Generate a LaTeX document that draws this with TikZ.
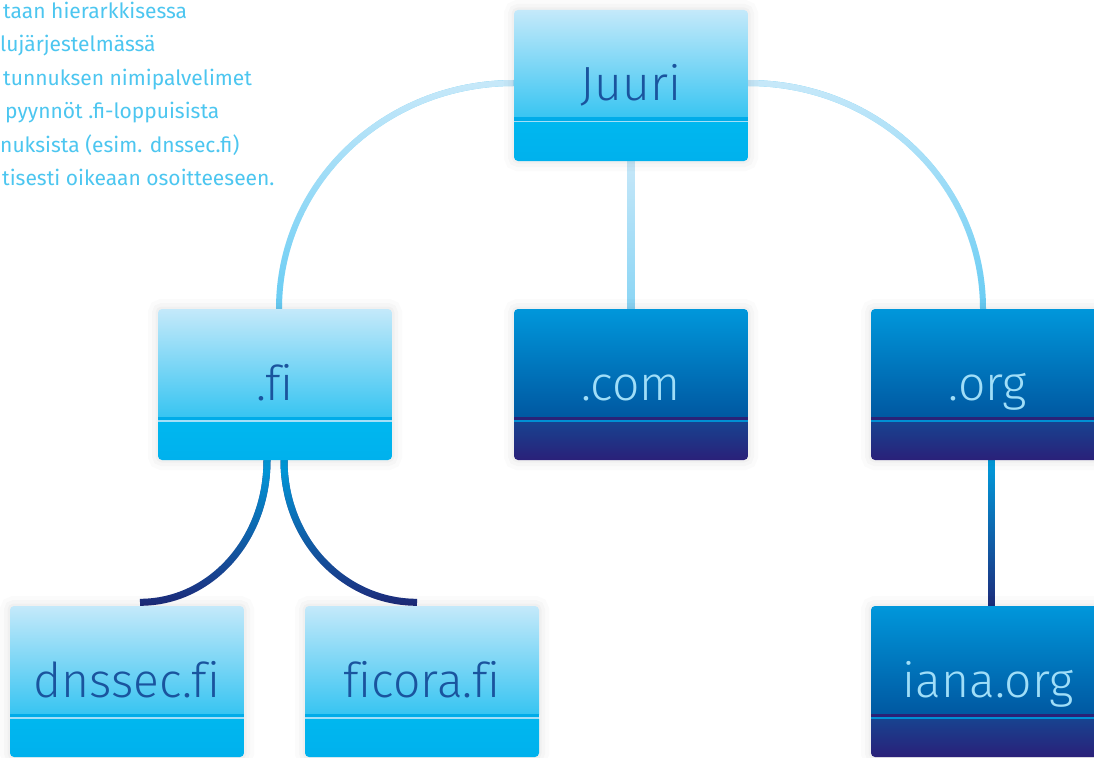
\documentclass[tikz,border=0pt]{standalone}
\usepackage{fontspec}
\newfontfamily\labelfont{Fira Sans Light}[Ligatures=NoCommon]
\newfontfamily\parafont{Fira Sans}
\usetikzlibrary{backgrounds,fadings}

\definecolor{lbTop}{HTML}{C4E9FA}
\definecolor{lbMid}{HTML}{6ECCF3}
\definecolor{lbBot}{HTML}{00B6EE}
\definecolor{lbStripeA}{HTML}{00ACE9}
\definecolor{lbStripeB}{HTML}{A3DFF7}
\definecolor{lbLowTop}{HTML}{00B7EF}
\definecolor{lbLowBot}{HTML}{00B1ED}
\definecolor{dbTop}{HTML}{0097DB}
\definecolor{dbMid}{HTML}{006FBA}
\definecolor{dbBot}{HTML}{003F8A}
\definecolor{dbStripeA}{HTML}{2A2277}
\definecolor{dbStripeB}{HTML}{0090D4}
\definecolor{dbLowTop}{HTML}{18428F}
\definecolor{dbLowBot}{HTML}{2A2079}
\definecolor{labelDark}{HTML}{1A549E}
\definecolor{labelLight}{HTML}{A0DEF8}
\definecolor{paraBlue}{HTML}{4CC6F0}
\definecolor{arcLight}{HTML}{C8E9FA}
\definecolor{arcDeep}{HTML}{66CCF4}
\definecolor{stemLight}{HTML}{C8E8F9}
\definecolor{stemDeep}{HTML}{88D5F5}
\definecolor{branchTop}{HTML}{00A0E0}
\definecolor{branchBot}{HTML}{1E2A7A}

\newcommand{\ppb}{path picture bounding box}
\newcommand{\strip}[3]{% solid strip from y #1 to y #2 below the top, colour #3
  \fill[sharp corners, #3]
    ([yshift=-#1pt]\ppb.north west) rectangle ([yshift=-#2pt]\ppb.north east);}

\tikzset{
  boxbase/.style={rectangle, rounded corners=4pt, minimum width=234pt,
    minimum height=151pt, inner sep=0pt, text height=36pt, text depth=5pt,
    font=\labelfont\fontsize{48}{48}\selectfont,
    preaction={draw=black, draw opacity=0.014, line width=20pt},
    preaction={draw=black, draw opacity=0.02, line width=12pt},
    preaction={draw=black, draw opacity=0.022, line width=5pt}},
  lightbox/.style={boxbase, text=labelDark,
    path picture={
      \shade[sharp corners, top color=lbTop, middle color=lbMid, bottom color=lbBot]
        (\ppb.north west) rectangle ([yshift=-108pt]\ppb.north east);
      \strip{107.5}{111}{lbStripeA}
      \strip{111}{113}{lbStripeB}
      \shade[sharp corners, top color=lbLowTop, bottom color=lbLowBot]
        ([yshift=-113pt]\ppb.north west) rectangle (\ppb.south east);
    }},
  darkbox/.style={boxbase, text=labelLight,
    path picture={
      \shade[sharp corners, top color=dbTop, middle color=dbMid, bottom color=dbBot]
        (\ppb.north west) rectangle ([yshift=-108pt]\ppb.north east);
      \strip{107.5}{111}{dbStripeA}
      \strip{111}{113.5}{dbStripeB}
      \shade[sharp corners, top color=dbLowTop, bottom color=dbLowBot]
        ([yshift=-113.5pt]\ppb.north west) rectangle (\ppb.south east);
    }},
  para/.style={font=\parafont\fontsize{21}{21}\selectfont, text=paraBlue,
    inner sep=0pt, anchor=base west},
  arcbase/.style={arcDeep, line width=6pt},
  arctop/.style={arcLight, line width=6pt, path fading=south},
  stembase/.style={stemDeep, line width=8pt},
  stemtop/.style={stemLight, line width=8pt, path fading=south},
  branchbase/.style={branchBot, line width=7pt},
  branchtop/.style={branchTop, line width=7pt, path fading=south},
}

\begin{document}
\begin{tikzpicture}[x=1pt, y=-1pt]
\path[use as bounding box] (0,0) rectangle (1094,757);

% paragraph (cut at the left edge)
\node[para] (p1) at (3,19)  {taan hierarkkisessa};
\node[para] (p2) at (0,52)  {lujärjestelmässä};
\node[para] (p3) at (3,86)  {tunnuksen nimipalvelimet};
\node[para] (p4) at (5,119) {pyynnöt .fi-loppuisista};
\node[para] (p5) at (0,152) {nuksista (esim. dnssec.fi)};
\node[para] (p6) at (2,185) {tisesti oikeaan osoitteeseen.};

% boxes
\node[lightbox] (juuri)  at (631,85.5)  {Juuri};
\node[lightbox] (fi)     at (275,384.5) {.fi};
\node[darkbox]  (com)    at (631,384.5) {.com};
\node[darkbox]  (org)    at (988,384.5) {.org};
\node[lightbox] (dnssec) at (127,681.5) {dnssec.fi};
\node[lightbox] (ficora) at (422,681.5) {ficora.fi};
\node[darkbox]  (iana)   at (988,681.5) {iana.org};

\begin{pgfonlayer}{background}
  \fill[white] (0,0) rectangle (1094,757);
  % Juuri -> .fi
  \draw[arcbase] ([yshift=2.5pt]juuri.west) .. controls +(-130,0) and +(0,-125) .. ([xshift=4pt]fi.north);
  \draw[arctop]  ([yshift=2.5pt]juuri.west) .. controls +(-130,0) and +(0,-125) .. ([xshift=4pt]fi.north);
  % Juuri -> .org
  \draw[arcbase] ([yshift=2.5pt]juuri.east) .. controls +(130,0) and +(0,-125) .. ([xshift=-5pt]org.north);
  \draw[arctop]  ([yshift=2.5pt]juuri.east) .. controls +(130,0) and +(0,-125) .. ([xshift=-5pt]org.north);
  % Juuri -> .com
  \draw[stembase] (juuri.south) -- (com.north);
  \draw[stemtop]  (juuri.south) -- (com.north);
  % .fi -> dnssec.fi
  \draw[branchbase] ([xshift=-8pt]fi.south) .. controls +(0,80) and +(70,0) .. ([xshift=13pt,yshift=3.5pt]dnssec.north);
  \draw[branchtop]  ([xshift=-8pt]fi.south) .. controls +(0,80) and +(70,0) .. ([xshift=13pt,yshift=3.5pt]dnssec.north);
  % .fi -> ficora.fi
  \draw[branchbase] ([xshift=9pt]fi.south) .. controls +(0,80) and +(-73,0) .. ([xshift=-5pt,yshift=3.5pt]ficora.north);
  \draw[branchtop]  ([xshift=9pt]fi.south) .. controls +(0,80) and +(-73,0) .. ([xshift=-5pt,yshift=3.5pt]ficora.north);
  % .org -> iana.org
  \draw[branchbase] ([xshift=3pt]org.south) -- ([xshift=3pt]iana.north);
  \draw[branchtop]  ([xshift=3pt]org.south) -- ([xshift=3pt]iana.north);
\end{pgfonlayer}
\end{tikzpicture}
\end{document}
